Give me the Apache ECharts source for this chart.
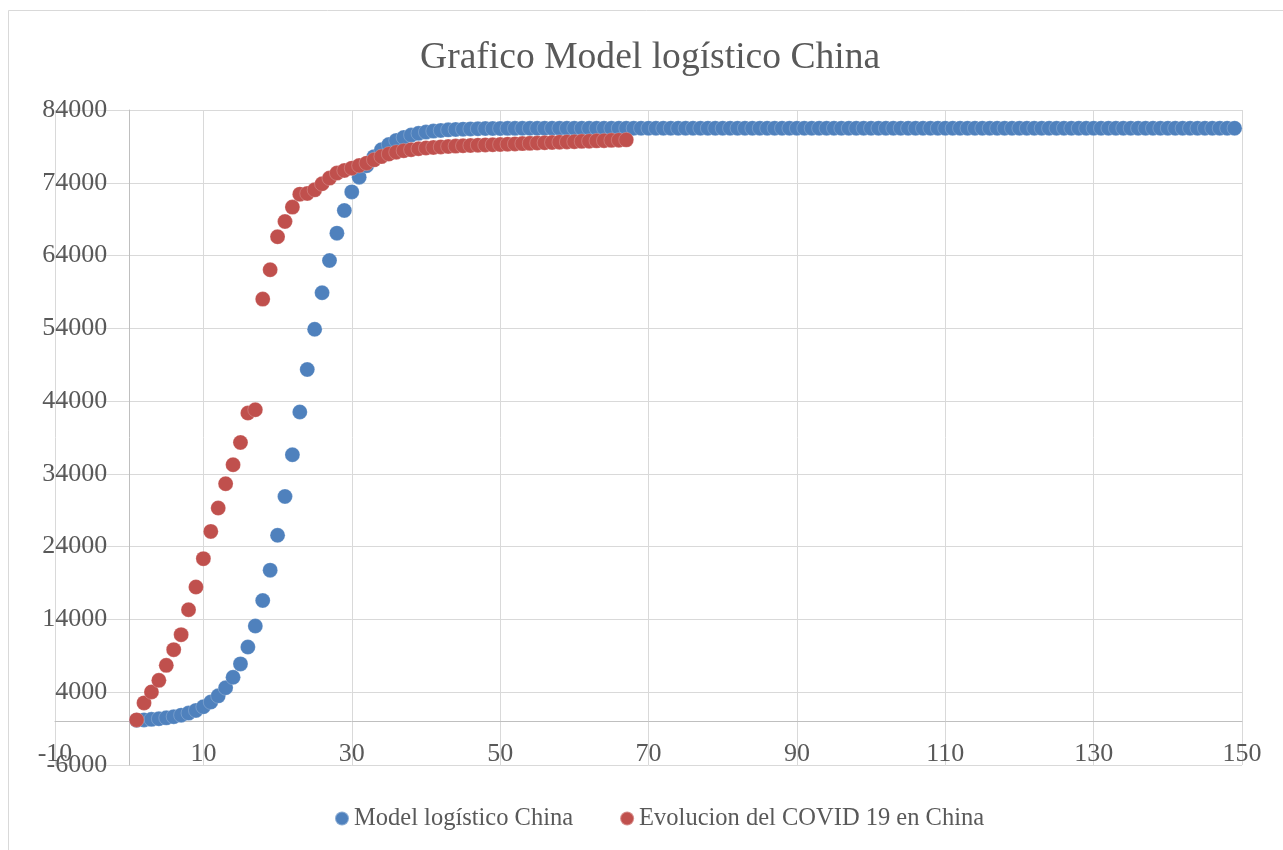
<!DOCTYPE html>
<html>
<head>
<meta charset="utf-8">
<title>Grafico Model logístico China</title>
<script src="https://cdn.jsdelivr.net/npm/echarts@6/dist/echarts.min.js"></script>
<style>
  html, body { margin: 0; padding: 0; background: #ffffff; }
  #chart { width: 1283px; height: 850px; }
</style>
</head>
<body>
<div id="chart"></div>
<script>
// Casos acumulados por día (día 1 en adelante)
const modelo = [
  150, 200, 270, 360, 480, 640, 850, 1130, 1500, 2000,
  2650, 3500, 4610, 6050, 7890, 10210, 13100, 16600, 20770, 25560,
  30900, 36630, 42510, 48340, 53870, 58890, 63320, 67080, 70200, 72750,
  74770, 76350, 77590, 78540, 79260, 79820, 80230, 80550, 80790, 80960,
  81100, 81200, 81270, 81330, 81370, 81400, 81430, 81450, 81460, 81470,
  81480, 81480, 81490, 81490, 81490, 81500, 81500, 81500, 81500, 81500,
  81500, 81500, 81500, 81500, 81500, 81500, 81500, 81500, 81500, 81500,
  81500, 81500, 81500, 81500, 81500, 81500, 81500, 81500, 81500, 81500,
  81500, 81500, 81500, 81500, 81500, 81500, 81500, 81500, 81500, 81500,
  81500, 81500, 81500, 81500, 81500, 81500, 81500, 81500, 81500, 81500,
  81500, 81500, 81500, 81500, 81500, 81500, 81500, 81500, 81500, 81500,
  81500, 81500, 81500, 81500, 81500, 81500, 81500, 81500, 81500, 81500,
  81500, 81500, 81500, 81500, 81500, 81500, 81500, 81500, 81500, 81500,
  81500, 81500, 81500, 81500, 81500, 81500, 81500, 81500, 81500, 81500,
  81500, 81500, 81500, 81500, 81500, 81500, 81500, 81500, 81500
];

const evolucion = [
  200, 2530, 4040, 5630, 7690, 9850, 11910, 15340, 18460, 22350,
  26100, 29310, 32650, 35260, 38320, 42360, 42810, 58020, 62050, 66580,
  68680, 70660, 72440, 72530, 73030, 73860, 74640, 75330, 75690, 76010,
  76370, 76700, 77150, 77600, 77950, 78200, 78400, 78550, 78680, 78780,
  78860, 78930, 78990, 79040, 79090, 79130, 79170, 79200, 79230, 79260,
  79300, 79340, 79380, 79420, 79460, 79500, 79540, 79580, 79620, 79650,
  79690, 79720, 79760, 79790, 79830, 79860, 79900
];

const xTicks = [-10, 10, 30, 50, 70, 90, 110, 130, 150];
const yTicks = [-6000, 4000, 14000, 24000, 34000, 44000, 54000, 64000, 74000, 84000];

const nombres = ['Model logístico China', 'Evolucion del COVID 19 en China'];
const colores = ['#4F81BD', '#C0504D'];

const FONT = 'Liberation Serif';
const TEXT = '#595959';

// Área de trazado
const G = { left: 55, right: 41, top: 110, bottom: 85 };
const W = 1283, H = 850;
const X_MIN = -10, X_MAX = 150, Y_MIN = -6000, Y_MAX = 84000;

// Los ejes se cruzan en el origen: desplazamiento de cada eje hasta el cero del otro
const plotW = W - G.left - G.right;
const plotH = H - G.top - G.bottom;
const offY = -plotW * (0 - X_MIN) / (X_MAX - X_MIN);
const offX = -plotH * (0 - Y_MIN) / (Y_MAX - Y_MIN);

const pares = arr => arr.map((v, i) => [i + 1, v]);

const chart = echarts.init(document.getElementById('chart'), null, { renderer: 'canvas' });

chart.setOption({
  animation: false,
  backgroundColor: '#ffffff',
  graphic: [{
    type: 'rect',
    shape: { x: 8.5, y: 10.5, width: 1400, height: 900 },
    style: { fill: 'none', stroke: '#d9d9d9', lineWidth: 1 },
    silent: true
  }],
  title: {
    text: 'Grafico Model logístico China',
    left: 420,
    top: 39,
    padding: 0,
    textStyle: { fontFamily: FONT, fontSize: 37.6, fontWeight: 'normal', color: TEXT }
  },
  legend: {
    left: 334,
    top: 806,
    padding: 0,
    icon: 'circle',
    itemWidth: 14,
    itemHeight: 14,
    itemGap: 46,
    data: nombres,
    textStyle: { fontFamily: FONT, fontSize: 24.5, color: TEXT }
  },
  grid: {
    left: G.left, right: G.right, top: G.top, bottom: G.bottom,
    outerBoundsMode: 'none'
  },
  xAxis: {
    type: 'value',
    min: X_MIN, max: X_MAX,
    offset: offX,
    axisLine: { onZero: false, lineStyle: { color: '#bfbfbf', width: 1 } },
    axisTick: { show: false, customValues: xTicks },
    axisLabel: {
      customValues: xTicks,
      formatter: v => String(v),
      margin: 20,
      fontFamily: FONT, fontSize: 26, color: TEXT
    },
    splitLine: { show: true, lineStyle: { color: '#d9d9d9', width: 1 } }
  },
  yAxis: {
    type: 'value',
    min: Y_MIN, max: Y_MAX,
    offset: offY,
    axisLine: { show: true, onZero: false, lineStyle: { color: '#bfbfbf', width: 1 } },
    axisTick: { show: false, customValues: yTicks },
    axisLabel: {
      customValues: yTicks,
      formatter: v => String(v),
      margin: 22,
      fontFamily: FONT, fontSize: 26, color: TEXT
    },
    splitLine: { show: true, lineStyle: { color: '#d9d9d9', width: 1 } }
  },
  series: [
    {
      name: nombres[0],
      type: 'scatter',
      symbol: 'circle',
      symbolSize: 15,
      data: pares(modelo),
      itemStyle: { color: colores[0], borderColor: 'rgba(255,255,255,0.35)', borderWidth: 0.6, opacity: 1 },
      z: 2
    },
    {
      name: nombres[1],
      type: 'scatter',
      symbol: 'circle',
      symbolSize: 15,
      data: pares(evolucion),
      itemStyle: { color: colores[1], borderColor: 'rgba(255,255,255,0.35)', borderWidth: 0.6, opacity: 1 },
      z: 3
    }
  ]
});
</script>
</body>
</html>
